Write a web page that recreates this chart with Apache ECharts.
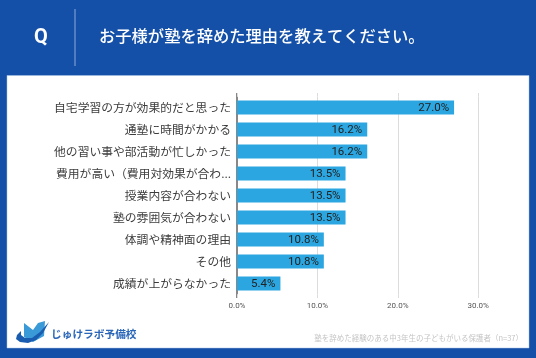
<!DOCTYPE html>
<html><head><meta charset="utf-8">
<style>html,body{margin:0;padding:0;background:#1550a8}#c{width:536px;height:358px}</style>
<script src="https://cdn.jsdelivr.net/npm/echarts@6/dist/echarts.min.js"></script>
</head><body><div id="c"></div>
<script>
const categories = ['自宅学習の方が効果的だと思った','通塾に時間がかかる','他の習い事や部活動が忙しかった','費用が高い（費用対効果が合わ...','授業内容が合わない','塾の雰囲気が合わない','体調や精神面の理由','その他','成績が上がらなかった'];
const values = [27.0,16.2,16.2,13.5,13.5,13.5,10.8,10.8,5.4];
const ticks = [0,10,20,30];
const FONT = '"Noto Sans CJK JP","Noto Sans",sans-serif';
const chart = echarts.init(document.getElementById('c'));
chart.setOption({
  animation:false,
  backgroundColor:'#1550a8',
  grid:{left:237,top:96.5,width:321.6,height:198,containLabel:false,outerBoundsMode:'none'},
  xAxis:[{type:'value',min:0,max:40,interval:10,position:'bottom',
    axisLine:{show:false},
    axisTick:{show:true,length:3.5,lineStyle:{color:'#dcdcdc',width:1}},
    axisLabel:{fontSize:8,color:'#555',margin:7,fontFamily:'Roboto',formatter:v=>ticks.includes(v)?v.toFixed(1)+'%':''},
    splitLine:{show:true,lineStyle:{color:['#888','#dcdcdc','#dcdcdc','#dcdcdc','#ffffff'],width:1}}},
   {type:'value',min:0,max:40,interval:10,position:'top',
    axisLine:{show:false},axisLabel:{show:false},splitLine:{show:false},
    axisTick:{show:true,length:3.5,lineStyle:{color:'#dcdcdc',width:1}}}],
  yAxis:{type:'category',data:categories,inverse:true,
    axisLine:{show:false},axisTick:{show:false},
    axisLabel:{fontSize:11.8,color:'#3c3c3c',margin:6,fontFamily:FONT,interval:0,width:190,overflow:'none'}},
  series:[{type:'bar',data:values,barWidth:14,z:3,
    itemStyle:{color:'#2ca6e0'},
    label:{show:true,position:'insideRight',distance:5,offset:[0,1],formatter:p=>p.value.toFixed(1)+'%',fontSize:11.5,color:'#222',fontFamily:'Roboto'}}],
  graphic:[
    {type:'rect',z:-10,silent:true,shape:{x:7,y:75.5,width:522,height:272.5},style:{fill:'#fff',stroke:'#a9c2e4',lineWidth:0.5}},
    {type:'line',z:-1,shape:{x1:75,y1:9,x2:75,y2:66},style:{stroke:'#8fa9d6',lineWidth:1}},
    {type:'line',z:1,shape:{x1:236.5,y1:93,x2:236.5,y2:298},style:{stroke:'#888',lineWidth:1}},
    {type:'text',style:{x:41,y:37.5,text:'Q',fill:'#fff',font:'bold 20px Roboto',align:'center',verticalAlign:'middle'}},
    {type:'text',style:{x:99,y:35.5,text:'お子様が塾を辞めた理由を教えてください。',fill:'#fff',font:'500 16.3px '+FONT,verticalAlign:'middle'}},
    {type:'text',style:{x:523,y:338,text:'塾を辞めた経験のある中3年生の子どもがいる保護者（n=37）',fill:'#c4c4c4',font:'7.5px '+FONT,align:'right',verticalAlign:'middle'}},
    {type:'text',style:{x:51,y:334,text:'じゅけラボ予備校',fill:'#2a66b8',font:'bold 10.7px '+FONT,verticalAlign:'middle'}},
    {type:'polygon',shape:{points:[[24,323],[33,330],[38,323],[45,321],[44,336],[33,342],[24,337]]},style:{fill:'#3a9ad8'}},
    {type:'polygon',shape:{points:[[21,331],[17,335],[16,339],[20,342],[28,343],[36,340],[43,333],[49,322],[40,332],[32,338],[25,338],[21,335]]},style:{fill:'#1a5cb0'}}
  ]
});
</script></body></html>
